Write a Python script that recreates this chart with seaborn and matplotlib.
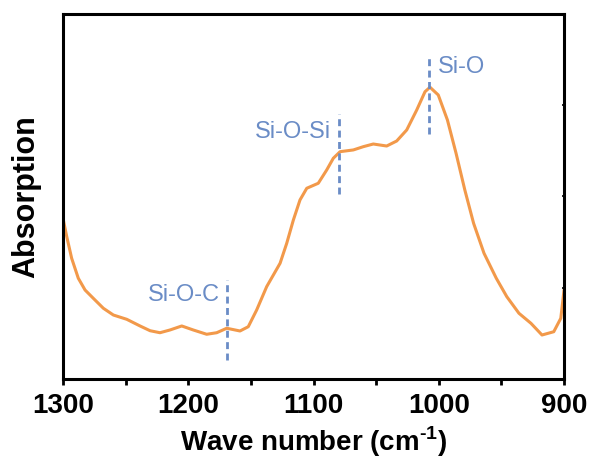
import matplotlib
matplotlib.use("Agg")
import matplotlib.pyplot as plt
import seaborn as sns
import pandas as pd

# FTIR spectrum (wave number in cm^-1, absorption in arbitrary units)
wavenumber = [1300.0, 1297.0, 1293.1, 1287.8, 1282.4, 1275.8, 1267.8, 1259.8,
              1249.1, 1238.5, 1230.5, 1222.6, 1214.6, 1205.2, 1196.0, 1185.3,
              1177.3, 1169.3, 1158.7, 1152.1, 1145.4, 1137.4, 1126.7, 1121.4,
              1116.1, 1110.8, 1105.4, 1096.2, 1089.5, 1084.2, 1078.8, 1068.2,
              1060.2, 1052.3, 1041.6, 1033.6, 1025.6, 1017.6, 1011.0, 1007.0,
              1000.4, 993.1, 986.2, 979.2, 972.2, 963.9, 954.1, 945.7,
              936.0, 926.4, 917.6, 908.2, 902.6, 900.0]
absorption = [1.761, 1.559, 1.323, 1.104, 0.975, 0.884, 0.775, 0.701,
              0.654, 0.581, 0.529, 0.507, 0.537, 0.581, 0.537, 0.490,
              0.507, 0.556, 0.526, 0.573, 0.756, 1.012, 1.268, 1.487,
              1.742, 1.962, 2.090, 2.145, 2.290, 2.419, 2.491, 2.510,
              2.546, 2.575, 2.553, 2.608, 2.729, 2.948, 3.148, 3.197,
              3.112, 2.838, 2.473, 2.071, 1.706, 1.378, 1.104, 0.902,
              0.720, 0.610, 0.482, 0.518, 0.665, 0.975]

# Band assignments: position, dashed marker extent, label and its anchor
band_pos = [1169, 1080, 1007.5]
band_ymin = [0.208, 2.027, 2.685]
band_ymax = [1.085, 2.904, 3.551]
band_labels = ["Si-O-C", "Si-O-Si", "Si-O"]
label_x = [1174.6, 1086.0, 1000.6]
label_y = [0.92, 2.71, 3.42]
label_ha = ["right", "right", "left"]

x_ticks = [1300, 1200, 1100, 1000, 900]
x_minor = [1250, 1150, 1050, 950]

sns.set_theme(style="white")
plt.rcParams["font.family"] = ["Liberation Sans", "DejaVu Sans"]
plt.rcParams["mathtext.fontset"] = "custom"
plt.rcParams["mathtext.rm"] = "Liberation Sans:bold"
plt.rcParams["mathtext.bf"] = "Liberation Sans:bold"

df = pd.DataFrame({"wn": wavenumber, "abs": absorption})

fig = plt.figure(figsize=(5.9, 4.61), dpi=100)
ax = fig.add_axes([0.1068, 0.1779, 0.8492, 0.7918])

sns.lineplot(data=df, x="wn", y="abs", ax=ax, color="#F2994A", linewidth=2.2,
             sort=False, solid_joinstyle="round", solid_capstyle="round")

blue = "#6A8CC6"
for pos, y0, y1 in zip(band_pos, band_ymin, band_ymax):
    ax.plot([pos, pos], [y0, y1], color=blue, linewidth=2.0,
            linestyle=(0, (2.5, 1.6)))

for lx, ly, txt, ha in zip(label_x, label_y, band_labels, label_ha):
    ax.text(lx, ly, txt, color=blue, fontsize=17, ha=ha, va="center")

ax.set_xlim(1300, 900)
ax.set_ylim(0, 4)
ax.set_xticks(x_ticks)
ax.set_xticks(x_minor, minor=True)
ax.set_yticks([1, 2, 3])
ax.set_yticklabels([])

for sp in ax.spines.values():
    sp.set_linewidth(2.2)
    sp.set_color("black")

# Small inward ticks on left/right/top, short outward ticks along the bottom
ax.tick_params(axis="y", which="both", direction="in", left=True, right=True,
               length=1.5, width=1.2, color="black")
ax.tick_params(axis="x", which="both", direction="out", bottom=True, top=False,
               length=4, width=2, color="black")
ax.tick_params(axis="x", which="major", labelsize=20, pad=6, labelcolor="black")
sec = ax.secondary_xaxis("top")
sec.set_xticks(x_ticks + x_minor)
sec.set_xticklabels([])
sec.tick_params(direction="in", length=1.5, width=1.2, color="black")
sec.spines["top"].set_visible(False)
for lbl in ax.get_xticklabels():
    lbl.set_fontweight("bold")

ax.set_xlabel("Wave number (cm$^{\\text{-1}}$)", fontsize=20,
              fontweight="bold", labelpad=4, color="black")
ax.set_ylabel("Absorption", fontsize=22, fontweight="bold", labelpad=12,
              color="black")

fig.savefig("out.png", dpi=100)
